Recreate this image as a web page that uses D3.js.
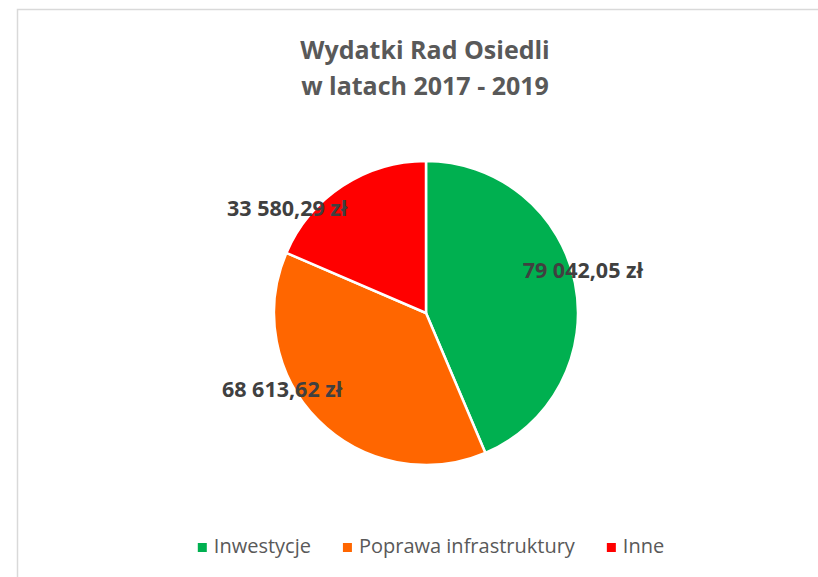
<!DOCTYPE html>
<html>
<head>
<meta charset="utf-8">
<script src="https://cdn.jsdelivr.net/npm/d3@7"></script>
<style>
  body { margin: 0; background: #fff; }
  text { font-family: "Open Sans", "Noto Sans", sans-serif; }
</style>
</head>
<body>
<script>
// chart data
const categories = ["Inwestycje", "Poprawa infrastruktury", "Inne"];
const values = [79042.05, 68613.62, 33580.29];
const valueLabels = ["79 042,05 zł", "68 613,62 zł", "33 580,29 zł"];
const colors = ["#00b050", "#ff6600", "#ff0000"];
const titleLines = ["Wydatki Rad Osiedli", "w latach 2017 - 2019"];

// label placement (polar: degrees from top, fraction of radius)
const labelPolar = [[74.7, 1.07], [242.2, 1.07], [307.1, 1.145]];

window.onload = function() {
  const w = 818;
  const h = 577;
  const cx = 426;
  const cy = 313;
  const r = 152;

  let svg = d3.select("body")
              .append("svg")
              .attr("width", w)
              .attr("height", h);

  // chart area border
  svg.append("rect")
     .attr("x", 17.5)
     .attr("y", 9.5)
     .attr("width", 820)
     .attr("height", 620)
     .attr("fill", "#fff")
     .attr("stroke", "#d9d9d9")
     .attr("stroke-width", 1.5);

  // title
  svg.selectAll(".title")
     .data(titleLines)
     .enter()
     .append("text")
     .attr("class", "title")
     .attr("x", 425)
     .attr("y", function(d, i) { return 59 + i * 36; })
     .attr("text-anchor", "middle")
     .attr("font-size", "25px")
     .attr("font-weight", "bold")
     .attr("fill", "#595959")
     .text(function(d) { return d; });

  let pie = d3.pie().sort(null).value(function(d) { return d; });
  let arc = d3.arc().innerRadius(0).outerRadius(r);
  let arcs = pie(values);

  let g = svg.append("g")
             .attr("transform", "translate(" + cx + "," + cy + ")");

  g.selectAll("path")
   .data(arcs)
   .enter()
   .append("path")
   .attr("d", arc)
   .attr("fill", function(d, i) { return colors[i]; })
   .attr("stroke", "#fff")
   .attr("stroke-width", 2.5)
   .attr("stroke-linejoin", "round");

  // data labels
  g.selectAll(".lbl")
   .data(valueLabels)
   .enter()
   .append("text")
   .attr("class", "lbl")
   .attr("transform", function(d, i) {
     let p = d3.pointRadial(labelPolar[i][0] * Math.PI / 180, labelPolar[i][1] * r);
     return "translate(" + p[0] + "," + p[1] + ")";
   })
   .attr("text-anchor", "middle")
   .attr("dy", "0.36em")
   .attr("font-size", "21.5px")
   .attr("font-weight", "bold")
   .attr("fill", "#404040")
   .text(function(d) { return d; });

  // legend
  let legend = svg.append("g");
  let items = legend.selectAll("g")
                    .data(categories)
                    .enter()
                    .append("g");
  items.append("rect")
       .attr("width", 9)
       .attr("height", 9)
       .attr("y", -10)
       .attr("fill", function(d, i) { return colors[i]; });
  items.append("text")
       .attr("x", 16)
       .attr("font-size", "20px")
       .attr("fill", "#595959")
       .text(function(d) { return d; });

  let xPos = 0;
  items.each(function() {
    let node = d3.select(this);
    node.attr("transform", "translate(" + xPos + ",0)");
    xPos += 16 + node.select("text").node().getComputedTextLength() + 32;
  });
  let legendWidth = xPos - 32;
  legend.attr("transform", "translate(" + (431 - legendWidth / 2) + ",553)");
}
</script>
</body>
</html>
